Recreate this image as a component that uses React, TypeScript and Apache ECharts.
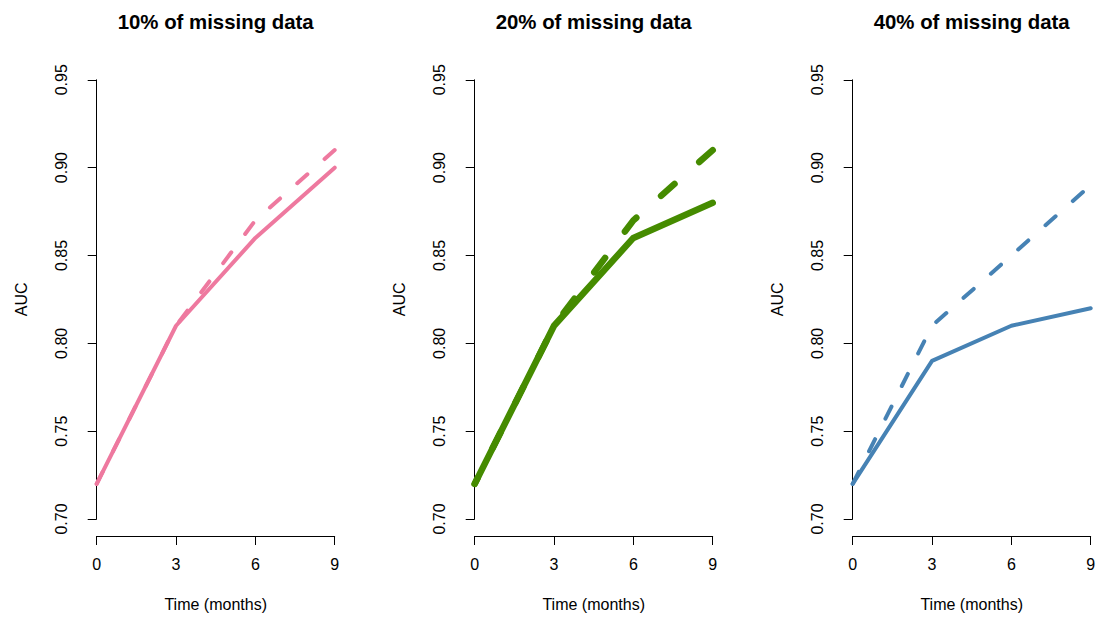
import React, { useEffect, useRef } from "react";
import * as echarts from "echarts";

const months = [0, 3, 6, 9];
const panelTitles = ["10% of missing data", "20% of missing data", "40% of missing data"];
const auc10Solid = [0.72, 0.81, 0.86, 0.9];
const auc10Dashed = [0.72, 0.81, 0.87, 0.91];
const auc20Solid = [0.72, 0.81, 0.86, 0.88];
const auc20Dashed = [0.72, 0.81, 0.87, 0.91];
const auc40Solid = [0.72, 0.79, 0.81, 0.82];
const auc40Dashed = [0.72, 0.81, 0.85, 0.89];
const colors = ["#EE799F", "#458B00", "#4682B4"];

const FONT = "'Liberation Sans', Arial, Helvetica, sans-serif";

export default function App() {
  const ref = useRef<HTMLDivElement>(null);
  useEffect(() => {
    if (!ref.current) return;
    const chart = echarts.init(ref.current, null, { renderer: "svg" });
    const solids = [auc10Solid, auc20Solid, auc40Solid];
    const dashes = [auc10Dashed, auc20Dashed, auc40Dashed];
    const gridLefts = [96.7, 474.7, 852.7];
    const yOffsets = [9.7, 9, 9.4];
    const widths = [4, 6.5, 4];
    const dashArr = [[13.5, 23], [18, 33], [13.5, 23]];
    const reverseDash = [true, true, false];
    const gridW = 238;
    const grids = gridLefts.map((l) => ({ left: l, top: 79.8, width: gridW, height: 439.2 }));
    const axisLine = { show: true, lineStyle: { color: "#000", width: 1 } };
    const xAxes = gridLefts.map((_, i) => ({
      type: "value",
      gridIndex: i,
      min: 0,
      max: 9,
      interval: 3,
      position: "bottom",
      offset: 17,
      axisLine,
      axisTick: { show: true, inside: false, length: 9, lineStyle: { color: "#000", width: 1 } },
      axisLabel: { color: "#000", fontSize: 16, fontFamily: FONT, margin: 20 },
      splitLine: { show: false },
      name: "Time (months)",
      nameLocation: "middle",
      nameGap: 60,
      nameTextStyle: { color: "#000", fontSize: 16, fontFamily: FONT },
    }));
    const yAxes = gridLefts.map((_, i) => ({
      type: "value",
      gridIndex: i,
      min: 0.7,
      max: 0.95,
      interval: 0.05,
      position: "left",
      offset: yOffsets[i],
      axisLine,
      axisTick: { show: true, inside: false, length: 9, lineStyle: { color: "#000", width: 1 } },
      axisLabel: {
        color: "#000",
        fontSize: 16,
        fontFamily: FONT,
        rotate: 90,
        margin: 18,
        formatter: (v: number) => v.toFixed(2),
      },
      splitLine: { show: false },
      name: "AUC",
      nameLocation: "middle",
      nameGap: 58,
      nameTextStyle: { color: "#000", fontSize: 16, fontFamily: FONT },
    }));
    const series: any[] = [];
    for (let i = 0; i < 3; i++) {
      const dashedData = months.map((m, k) => [m, dashes[i][k]]);
      if (reverseDash[i]) dashedData.reverse();
      series.push({
        type: "line",
        xAxisIndex: i,
        yAxisIndex: i,
        data: dashedData,
        showSymbol: false,
        symbol: "none",
        clip: false,
        lineStyle: { color: colors[i], width: widths[i], type: dashArr[i], cap: "round", join: "round" },
      });
      series.push({
        type: "line",
        xAxisIndex: i,
        yAxisIndex: i,
        data: months.map((m, k) => [m, solids[i][k]]),
        showSymbol: false,
        symbol: "none",
        clip: false,
        lineStyle: { color: colors[i], width: widths[i], type: "solid", cap: "round", join: "round" },
      });
    }
    const titles = gridLefts.map((l, i) => ({
      text: panelTitles[i],
      left: l + gridW / 2 - 5,
      top: 7,
      textAlign: "center",
      textStyle: { color: "#000", fontSize: 20.4, fontWeight: "bold", fontFamily: FONT },
    }));
    chart.setOption({
      animation: false,
      backgroundColor: "#fff",
      title: titles,
      grid: grids,
      xAxis: xAxes,
      yAxis: yAxes,
      series,
    });
    return () => chart.dispose();
  }, []);
  return (
    <div
      ref={ref}
      style={{ position: "fixed", left: 0, top: 0, width: 1104, height: 619, background: "#fff" }}
    />
  );
}
